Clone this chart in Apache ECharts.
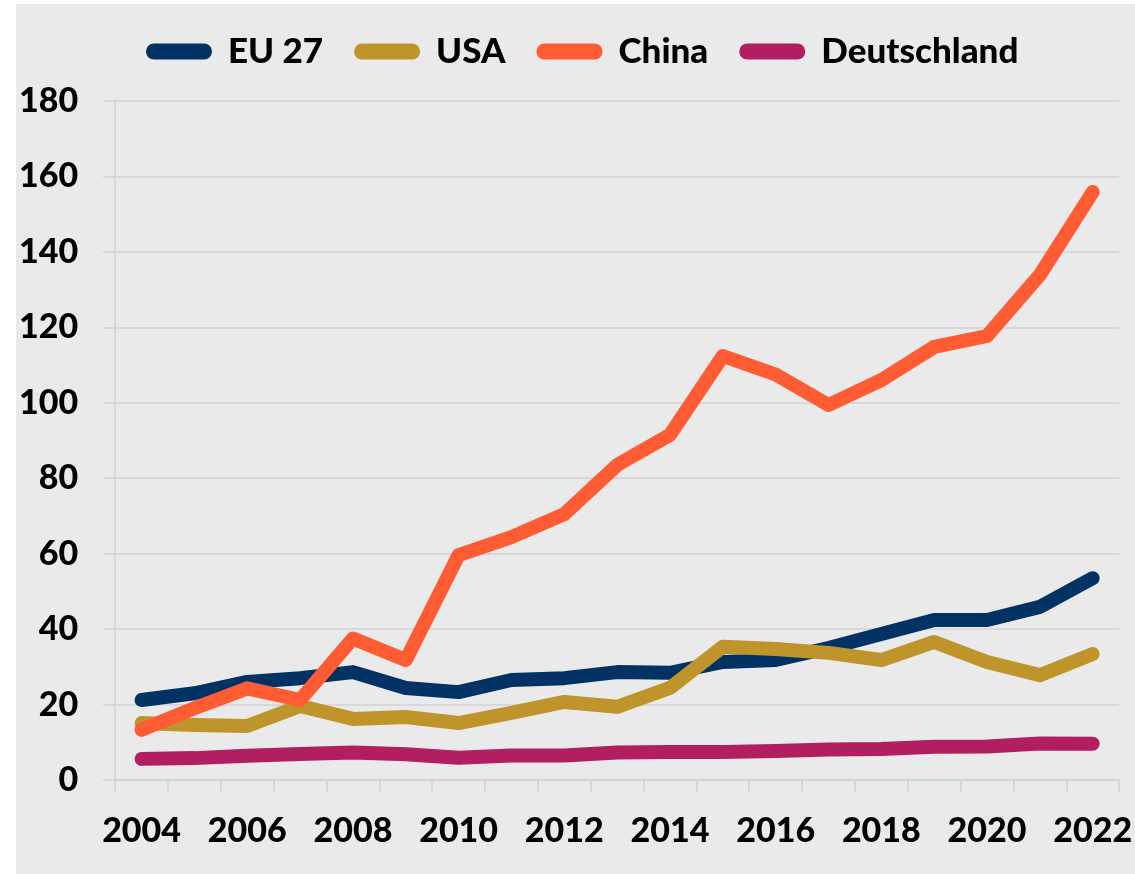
<!DOCTYPE html>
<html>
<head>
<meta charset="utf-8">
<script src="https://cdn.jsdelivr.net/npm/echarts@6/dist/echarts.min.js"></script>
<style>
  html, body { margin: 0; padding: 0; background: #ffffff; }
  #chart { position: absolute; left: 16px; top: 4px; width: 1119px; height: 870px; background: #eaeaea; }
</style>
</head>
<body>
<div id="chart"></div>
<script>
const years = ["2004", "2005", "2006", "2007", "2008", "2009", "2010", "2011", "2012", "2013",
  "2014", "2015", "2016", "2017", "2018", "2019", "2020", "2021", "2022"];

const eu27 = [21.2, 23, 26, 27, 28.6, 24.4, 23.3, 26.5, 27, 28.6, 28.4, 31.3, 31.8, 35, 38.7, 42.4, 42.4, 45.9, 53.5];
const usa = [15.1, 14.6, 14.3, 19.6, 16.2, 16.7, 15.1, 17.8, 20.7, 19.4, 24.4, 35.3, 34.7, 33.7, 31.8, 36.6, 31.3, 27.8, 33.4];
const china = [13.3, 19, 24.3, 21.2, 37.5, 31.8, 59.6, 64.4, 70.5, 83.5, 91.5, 112.4, 107.5, 99.4, 106, 114.8, 117.7, 133.9, 155.9];
const deutschland = [5.6, 5.8, 6.4, 6.9, 7.3, 6.8, 5.9, 6.5, 6.5, 7.3, 7.4, 7.4, 7.7, 8.1, 8.2, 8.8, 8.9, 9.7, 9.6];

const names = ["EU 27", "USA", "China", "Deutschland"];
const colors = ["#003263", "#bf952b", "#ff5c33", "#b11f60"];

const font = "Lato";
const weight = 900;
const gridColor = "#d2d2d2";
const capsule = "path://M8,0 L58,0 A8,8 0 0 1 58,16 L8,16 A8,8 0 0 1 8,0 Z";

const makeSeries = (name, data, color) => ({
  name: name,
  type: "line",
  data: data,
  showSymbol: false,
  symbol: "none",
  lineStyle: { width: 14, color: color, cap: "round", join: "round" },
  itemStyle: { color: color },
  emphasis: { disabled: true }
});

const chart = echarts.init(document.getElementById("chart"));

chart.setOption({
  animation: false,
  textStyle: { fontFamily: font },
  legend: {
    top: 25,
    left: 125,
    itemWidth: 66,
    itemHeight: 16,
    itemGap: 31,
    icon: capsule,
    textStyle: { fontFamily: font, fontWeight: weight, fontSize: 35, color: "#000", padding: [0, 0, 0, 11] },
    data: names
  },
  grid: { left: 98, right: 12, top: 97, bottom: 94, containLabel: false },
  xAxis: {
    type: "category",
    data: years,
    boundaryGap: true,
    axisLine: { lineStyle: { color: gridColor, width: 1.5 } },
    axisTick: { show: true, length: 12, interval: 0, lineStyle: { color: gridColor, width: 1.5 } },
    axisLabel: { interval: 1, margin: 34, fontFamily: font, fontWeight: weight, fontSize: 34, color: "#000" },
    splitLine: { show: false }
  },
  yAxis: {
    type: "value",
    min: 0,
    max: 180,
    interval: 20,
    axisLine: { show: true, lineStyle: { color: gridColor, width: 1.5 } },
    axisTick: { show: true, length: 12, lineStyle: { color: gridColor, width: 1.5 } },
    axisLabel: { margin: 37, fontFamily: font, fontWeight: weight, fontSize: 34, color: "#000" },
    splitLine: { lineStyle: { color: gridColor, width: 1.5 } }
  },
  series: [
    makeSeries(names[0], eu27, colors[0]),
    makeSeries(names[1], usa, colors[1]),
    makeSeries(names[2], china, colors[2]),
    makeSeries(names[3], deutschland, colors[3])
  ]
});
</script>
</body>
</html>
